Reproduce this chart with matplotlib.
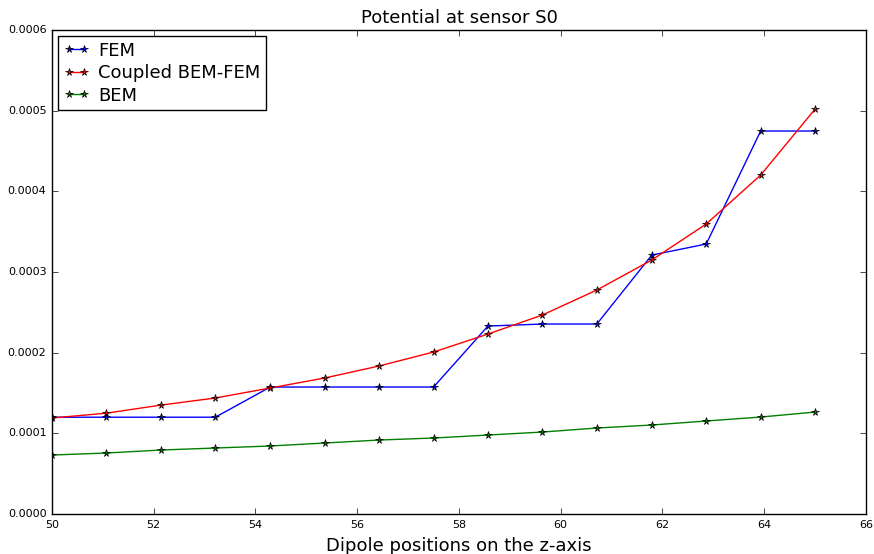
import numpy as np
import matplotlib
matplotlib.use('Agg')
import matplotlib.pyplot as plt

# dipole positions along z
z_pos = [50.0, 51.07, 52.14, 53.21, 54.29, 55.36, 56.43, 57.5,
         58.57, 59.64, 60.71, 61.79, 62.86, 63.93, 65.0]

fem = [0.000120, 0.000120, 0.000120, 0.000120, 0.0001574, 0.0001574, 0.0001574, 0.0001574,
       0.000233, 0.0002355, 0.0002355, 0.000321, 0.0003347, 0.0004748, 0.0004748]
coupled = [0.000119, 0.000125, 0.000135, 0.0001438, 0.0001562, 0.0001686, 0.0001835, 0.0002008,
           0.0002231, 0.0002467, 0.0002777, 0.0003149, 0.0003595, 0.0004202, 0.000502]
bem = [0.0000731, 0.0000756, 0.0000793, 0.0000818, 0.0000843, 0.000088, 0.0000917, 0.0000942,
       0.0000979, 0.0001016, 0.0001066, 0.0001103, 0.0001153, 0.0001202, 0.0001264]

plt.style.use('classic')
plt.rcParams['figure.facecolor'] = 'white'
plt.rcParams['savefig.facecolor'] = 'white'

fig = plt.figure(figsize=(8.74, 5.54), dpi=100)
ax = fig.add_axes([0.0595, 0.0722, 0.9313, 0.8736])

ax.plot(z_pos, fem, 'b-', marker='*', markersize=5.5, markeredgecolor='k', label='FEM')
ax.plot(z_pos, coupled, 'r-', marker='*', markersize=5.5, markeredgecolor='k', label='Coupled BEM-FEM')
ax.plot(z_pos, bem, 'g-', marker='*', markersize=5.5, markeredgecolor='k', label='BEM')

ax.set_xlim(50, 66)
ax.set_ylim(0, 0.0006)
ax.set_xticks(np.arange(50, 67, 2))
ax.set_yticks(np.arange(0, 0.00061, 0.0001))
ax.set_yticklabels(['0.0000', '0.0001', '0.0002', '0.0003', '0.0004', '0.0005', '0.0006'])
ax.tick_params(labelsize=8)

ax.set_title('Potential at sensor S0', fontsize=13)
ax.set_xlabel('Dipole positions on the z-axis', fontsize=13)
ax.legend(loc='upper left', fontsize=13, numpoints=2, borderaxespad=0.35,
          handlelength=1.4, labelspacing=0.25, borderpad=0.3, handletextpad=0.5)

fig.savefig('out.png', dpi=100)
